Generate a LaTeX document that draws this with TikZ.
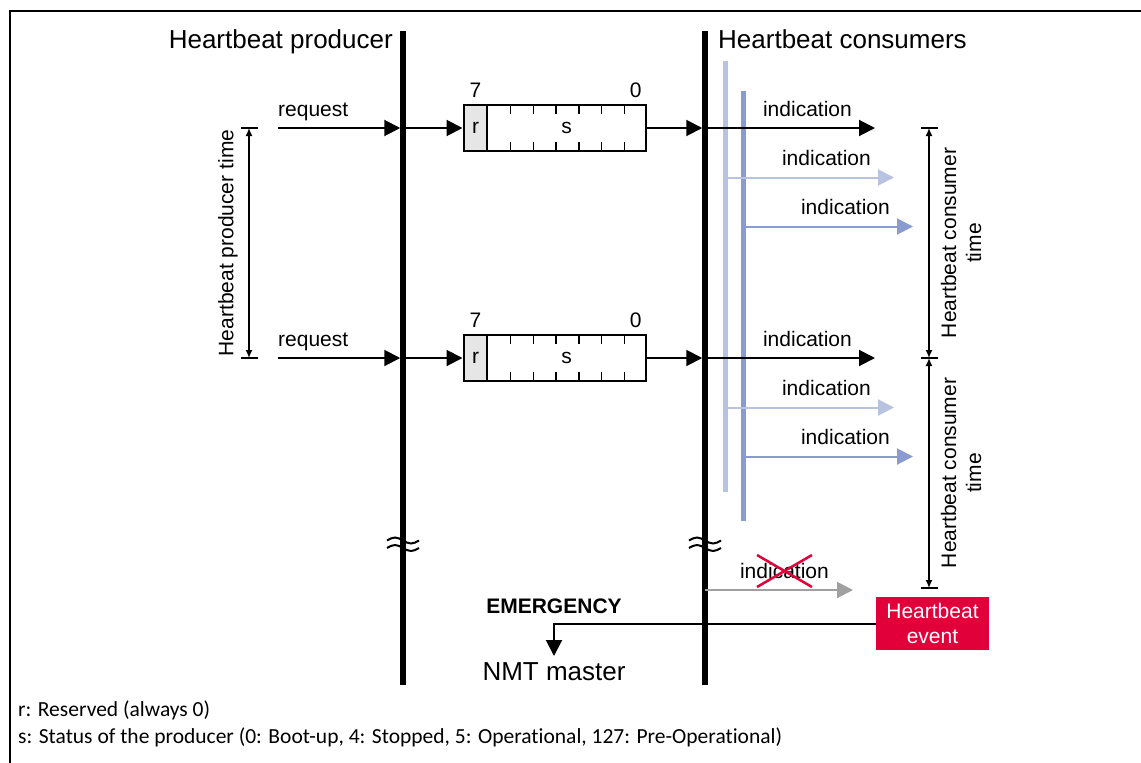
\documentclass[tikz,border=0pt]{standalone}
\usepackage{fontspec}
\setmainfont{Liberation Sans}
\newfontfamily\notefont[Ligatures=NoCommon]{Carlito}
\usetikzlibrary{arrows.meta,calc,positioning}
\definecolor{hbred}{RGB}{226,0,58}
\definecolor{lightblue}{RGB}{183,195,225}
\definecolor{darkblue}{RGB}{138,155,208}
\definecolor{lostgray}{RGB}{160,160,160}
\definecolor{cellgray}{RGB}{230,230,230}
\tikzset{>={Triangle[length=16pt,width=16pt]}}
\tikzset{bigtext/.style={font=\fontsize{26}{30}\selectfont, inner sep=0pt}}
\tikzset{smalltext/.style={font=\fontsize{21}{25}\selectfont, inner sep=0pt}}
\tikzset{notetext/.style={font=\notefont\fontsize{21.5}{25}\selectfont, inner sep=0pt}}
\tikzset{lifeline/.style={line width=5.5pt}}
\tikzset{bluebar/.style={line width=5pt}}
\tikzset{msgline/.style={line width=2pt, ->}}
\tikzset{dimline/.style={line width=1.5pt, {Latex[length=8pt,width=7pt]}-{Latex[length=8pt,width=7pt]}}}
\tikzset{dimend/.style={line width=1.5pt}}
\tikzset{breakline/.style={line width=2pt}}
\tikzset{regbox/.style={draw, line width=1.5pt, minimum width=182pt, minimum height=46pt, inner sep=0pt}}
\tikzset{rcell/.style={regbox, fill=cellgray, minimum width=23pt, anchor=west, smalltext}}
\tikzset{eventbox/.style={smalltext, fill=hbred, text=white, align=center,
    minimum width=113pt, minimum height=53pt}}

\begin{document}
\begin{tikzpicture}[x=1pt,y=-1pt]
\useasboundingbox (0,0) rectangle (1141,763);
% frame
\draw[line width=2.5pt] (10,763) -- (10,11) -- (1141,11);
% lifelines
\coordinate (P0) at (403,31);
\coordinate (P1) at (403,685);
\coordinate (C0) at (705,31);
\coordinate (C1) at (705,685);
\draw[lifeline] (P0) -- (P1);
\draw[lifeline] (C0) -- (C1);
\node[bigtext, anchor=base east] (prodname) at (393,48) {Heartbeat producer};
\node[bigtext, anchor=base west] (consname) at (718,48) {Heartbeat consumers};
% consumer bars
\coordinate (L0) at (725,61);
\coordinate (L1) at (725,492);
\coordinate (D0) at (743.5,91);
\coordinate (D1) at (743.5,521);
\draw[bluebar, lightblue] (L0) -- (L1);
\draw[bluebar, darkblue] (D0) -- (D1);
% breaks
\foreach \x in {403,705} {
  \foreach \y in {540.5,548} {
    \draw[breakline] (\x-16,\y) sin ++(8,-3) cos ++(8,3) sin ++(8,3) cos ++(8,-3);
  }
}
% the two heartbeat cycles
\foreach \row/\y in {1/128,2/358} {
  \coordinate (req\row) at (278,\y);
  \node[regbox] (reg\row) at (555,\y) {};
  \node[rcell] (r\row) at (reg\row.west) {r};
  \node[smalltext] (s\row) at ($(reg\row.center)+(11.5,0)$) {s};
  \foreach \k in {1,...,6} {
    \draw[line width=1.5pt] ($(r\row.north east)+(\k*22.79,0)$) -- ++(0,9.5);
    \draw[line width=1.5pt] ($(r\row.south east)+(\k*22.79,0)$) -- ++(0,-10);
  }
  \node[smalltext, anchor=base] (msb\row) at ($(r\row.north)+(0,-6.4)$) {7};
  \node[smalltext, anchor=base] (lsb\row) at ($(reg\row.north east)+(-11,-6.4)$) {0};
  \draw[msgline, shorten >=2.75pt] (req\row) -- (req\row -| P0);
  \node[smalltext, anchor=base west] (reqlabel\row) at ($(req\row)+(0,-12)$) {request};
  \draw[msgline, shorten >=0.75pt] (reg\row.west -| P0) -- (reg\row.west);
  \draw[msgline, shorten >=2.75pt] (reg\row.east) -- (reg\row.east -| C0);
  \coordinate (ia\row) at (875,\y);
  \coordinate (ib\row) at (894,\y+49.5);
  \coordinate (ic\row) at (913,\y+98.5);
  \draw[msgline] (ia\row -| C0) -- (ia\row);
  \draw[msgline, lightblue] (ib\row -| L0) -- (ib\row);
  \draw[msgline, darkblue] (ic\row -| D0) -- (ic\row);
  \node[smalltext, anchor=base east] (inda\row) at ($(ia\row)+(-23,-12)$) {indication};
  \node[smalltext, anchor=base east] (indb\row) at ($(ib\row)+(-23,-12.5)$) {indication};
  \node[smalltext, anchor=base east] (indc\row) at ($(ic\row)+(-23,-12.5)$) {indication};
}
% producer time
\coordinate (pt0) at (249,128);
\coordinate (pt1) at (249,358);
\draw[dimline] (pt0) -- (pt1);
\draw[dimend] ($(pt0)+(-8.5,0)$) -- ++(17,0);
\draw[dimend] ($(pt1)+(-8.5,0)$) -- ++(17,0);
\node[smalltext, rotate=90] (prodtime) at (228,243) {Heartbeat producer time};
% consumer time
\coordinate (ct0) at (929,128);
\coordinate (ct1) at (929,358);
\coordinate (ct2) at (929,588);
\draw[dimline] (ct0) -- (ct1);
\draw[dimline] (ct1) -- (ct2);
\foreach \c in {ct0,ct1,ct2}
  \draw[dimend] ($(\c)+(-8.5,0)$) -- ++(17,0);
\node[smalltext, rotate=90, align=center] (constime1) at (961,243) {Heartbeat consumer\\time};
\node[smalltext, rotate=90, align=center] (constime2) at (961,473) {Heartbeat consumer\\time};
% missing indication
\coordinate (lost) at (853,590);
\draw[msgline, lostgray] (lost -| C0) -- (lost);
\node[smalltext, anchor=base east] (lostlabel) at ($(lost)+(-24,-12)$) {indication};
\draw[line width=2.5pt, hbred] (757,555) -- (812,587);
\draw[line width=2.5pt, hbred] (757,587) -- (812,555);
% heartbeat event
\node[eventbox] (event) at (932.5,623.5) {Heartbeat\\event};
\coordinate (nmt) at (554,656);
\draw[msgline] (event.west) -| (nmt);
\node[anchor=base, inner sep=0pt, font=\fontsize{21}{25}\selectfont\bfseries] (emcy) at (554,613) {EMERGENCY};
\node[bigtext, anchor=base] (master) at (554,680) {NMT master};
% notes
\node[notetext, anchor=base west] (noter) at (18,716) {r: Reserved (always 0)};
\node[notetext, anchor=base west] (notes) at (18,743) {s: Status of the producer (0: Boot-up, 4: Stopped, 5: Operational, 127: Pre-Operational)};
\end{tikzpicture}
\end{document}
